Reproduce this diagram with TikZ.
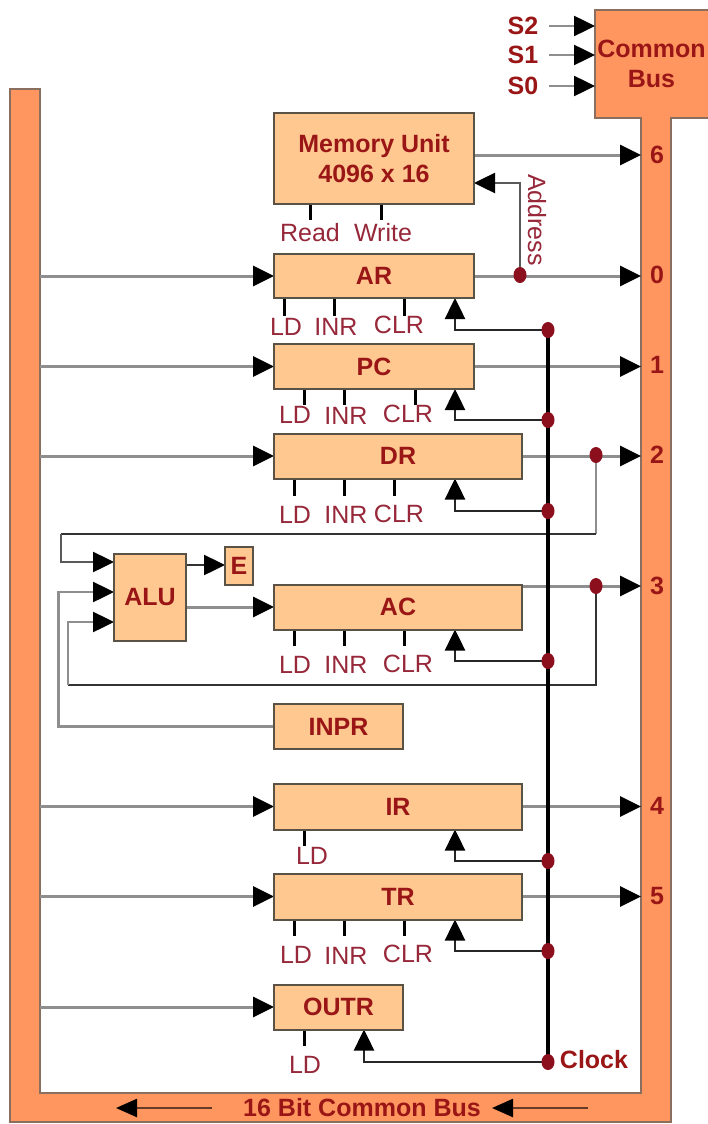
\documentclass[tikz,border=0pt]{standalone}
\usepackage{fontspec}
\setmainfont{Liberation Sans}
\usetikzlibrary{arrows.meta,shapes.geometric}
\definecolor{busfill}{HTML}{FF965F}
\definecolor{busedge}{HTML}{8A6E5E}
\definecolor{regfill}{HTML}{FFC890}
\definecolor{regedge}{HTML}{5A5244}
\definecolor{boldred}{HTML}{9A1616}
\definecolor{thinred}{HTML}{97283A}
\definecolor{dotred}{HTML}{8C0F1E}
\definecolor{wiregray}{HTML}{8E8E8E}
\pgfdeclarelayer{busLayer}
\pgfdeclarelayer{wireLayer}
\pgfsetlayers{busLayer,wireLayer,main}
\tikzset{
  every node/.style={inner sep=0pt,outer sep=0pt},
  regbox/.style={draw=regedge,fill=regfill,line width=2pt,font=\fontsize{25}{30}\selectfont\bfseries,text=boldred,align=center},
  boldlabel/.style={font=\fontsize{25}{30}\selectfont\bfseries,text=boldred,align=center},
  ctllabel/.style={font=\fontsize{25}{30}\selectfont,text=thinred},
  junction/.style={ellipse,fill=dotred,minimum width=13pt,minimum height=16pt},
  bigtip/.tip={Triangle[length=21pt,width=20pt,color=black,fill=black]},
  busdata/.style={draw=wiregray,line width=3pt,-bigtip},
  plainwire/.style={draw=wiregray,line width=3pt},
  darkwire/.style={draw=black!80,line width=2.5pt},
  darkarrow/.style={draw=black!80,line width=2.5pt,-bigtip},
  grayarrow/.style={draw=wiregray,line width=2.5pt,-bigtip},
  clockline/.style={draw=black,line width=3.5pt},
  clockarrow/.style={draw=black!85,line width=2.5pt,-bigtip},
  ctltick/.style={draw=black,line width=3pt},
  busarrow/.style={draw=black!60!busfill,line width=2.5pt,-{Triangle[length=21pt,width=18pt,color=black,fill=black]}},
}
\newcommand{\ctltick}[3]{\coordinate (tk) at (#2,#3); \draw[ctltick] (tk |- #1.south) -- (tk);}
\begin{document}
\begin{tikzpicture}[x=1pt,y=-1pt]
\useasboundingbox (0,0) rectangle (707,1124);

% ---- bus outline
\begin{pgfonlayer}{busLayer}
\fill[white] (0,0) rectangle (707,1124);
\draw[fill=busfill,draw=busedge,line width=2pt,line join=miter]
  (10,89) -- (40,89) -- (40,1093) -- (641,1093) -- (641,118) -- (595,118) -- (595,10)
  -- (712,10) -- (712,118) -- (671,118) -- (671,1122) -- (10,1122) -- cycle;
\end{pgfonlayer}
\coordinate (leftbus) at (40,0);
\coordinate (rightbus) at (641,0);

% ---- registers
\node[regbox,minimum width=200pt,minimum height=91pt] (MEM) at (374,158.5) {Memory Unit\\4096 x 16};
\node[regbox,minimum width=200pt,minimum height=44pt] (AR) at (374,276) {AR};
\node[regbox,minimum width=200pt,minimum height=45pt] (PC) at (374,366.5) {PC};
\node[regbox,minimum width=248pt,minimum height=45pt] (DR) at (398,456) {DR};
\node[regbox,minimum width=248pt,minimum height=45pt] (AC) at (398,607) {AC};
\node[regbox,minimum width=72pt,minimum height=87pt] (ALU) at (150,597.5) {ALU};
\node[regbox,minimum width=28pt,minimum height=38pt] (E) at (239,566) {E};
\node[regbox,minimum width=129pt,minimum height=45pt] (INPR) at (338.5,726.5) {INPR};
\node[regbox,minimum width=248pt,minimum height=46pt] (IR) at (398,806.5) {IR};
\node[regbox,minimum width=248pt,minimum height=46pt] (TR) at (398,896.5) {TR};
\node[regbox,minimum width=129pt,minimum height=45pt] (OUTR) at (338.5,1007) {OUTR};

% ---- common bus select
\node[boldlabel,minimum width=113pt,minimum height=108pt] (CB) at (651.5,64) {Common\\Bus};
\node[boldlabel] (S2) at (523,26) {S2};
\node[boldlabel] (S1) at (523,55) {S1};
\node[boldlabel] (S0) at (523,86) {S0};

% ---- bus position numbers
\node[boldlabel] (n6) at (657,155) {6};
\node[boldlabel] (n0) at (657,275) {0};
\node[boldlabel] (n1) at (657,365) {1};
\node[boldlabel] (n2) at (657,455) {2};
\node[boldlabel] (n3) at (657,586) {3};
\node[boldlabel] (n4) at (657,806) {4};
\node[boldlabel] (n5) at (657,896) {5};

% ---- control labels
\node[ctllabel] (lRead) at (310,233) {Read};
\node[ctllabel] (lWrite) at (383,233) {Write};
\node[ctllabel] (lA1) at (286,327) {LD};
\node[ctllabel] (lA2) at (336,327) {INR};
\node[ctllabel] (lA3) at (399,325) {CLR};
\node[ctllabel] (lP1) at (295,415) {LD};
\node[ctllabel] (lP2) at (346,416) {INR};
\node[ctllabel] (lP3) at (408,414) {CLR};
\node[ctllabel] (lD1) at (295,515) {LD};
\node[ctllabel] (lD2) at (346,515) {INR};
\node[ctllabel] (lD3) at (399,514) {CLR};
\node[ctllabel] (lC1) at (295,665) {LD};
\node[ctllabel] (lC2) at (346,665) {INR};
\node[ctllabel] (lC3) at (408,664) {CLR};
\node[ctllabel] (lI1) at (312,856) {LD};
\node[ctllabel] (lT1) at (296,955) {LD};
\node[ctllabel] (lT2) at (346,956) {INR};
\node[ctllabel] (lT3) at (408,954) {CLR};
\node[ctllabel] (lO1) at (305,1065) {LD};
\node[ctllabel,rotate=-90] (lAddr) at (537,220) {Address};
\node[font=\fontsize{25}{30}\selectfont\bfseries,text=boldred] (lClock) at (594,1060) {Clock};
\node[boldlabel] (lBus) at (362,1108) {16 Bit Common Bus};

% ---- junctions
\node[junction] (jAddr) at (520,275) {};
\node[junction] (jDR) at (596,455) {};
\node[junction] (jAC) at (596,586) {};
\node[junction] (cAR) at (548,330) {};
\node[junction] (cPC) at (548,420) {};
\node[junction] (cDR) at (548,511) {};
\node[junction] (cAC) at (548,661) {};
\node[junction] (cIR) at (548,861) {};
\node[junction] (cTR) at (548,951) {};
\node[junction] (cOUT) at (548,1062) {};

\begin{pgfonlayer}{wireLayer}
% selects
\draw[grayarrow] (S2.east) ++(11,0) -- (CB.west |- S2.east);
\draw[grayarrow] (S1.east) ++(11,0) -- (CB.west |- S1.east);
\draw[grayarrow] (S0.east) ++(11,0) -- (CB.west |- S0.east);
% left bus into registers
\draw[busdata] (leftbus |- AR.west) -- (AR.west);
\draw[busdata] (leftbus |- PC.west) -- (PC.west);
\draw[busdata] (leftbus |- DR.west) -- (DR.west);
\draw[busdata] (leftbus |- IR.west) -- (IR.west);
\draw[busdata] (leftbus |- TR.west) -- (TR.west);
\draw[busdata] (leftbus |- OUTR.west) -- (OUTR.west);
% registers into right bus
\coordinate (memOut) at (474,155);
\coordinate (memIn) at (474,183);
\coordinate (acOut) at (522,586);
\draw[busdata] (memOut) -- (rightbus |- memOut);
\draw[busdata] (AR.east) -- (rightbus |- AR.east);
\draw[busdata] (PC.east) -- (rightbus |- PC.east);
\draw[busdata] (DR.east) -- (rightbus |- DR.east);
\draw[busdata] (acOut) -- (rightbus |- acOut);
\draw[busdata] (IR.east) -- (rightbus |- IR.east);
\draw[busdata] (TR.east) -- (rightbus |- TR.east);
% address
\draw[darkarrow,draw=black!65] (jAddr.center) |- (memIn);
% ALU network
\coordinate (aluA) at (114,562);
\coordinate (aluB) at (114,592);
\coordinate (aluC) at (114,622);
\coordinate (drTurn) at (596,534);
\coordinate (drLeft) at (61,534);
\coordinate (acTurn) at (596,685);
\coordinate (acLeft) at (68,685);
\coordinate (inLeft) at (58.5,726.5);
\draw[plainwire,line width=2.5pt] (jDR.center) -- (drTurn);
\draw[darkwire] (drTurn) -- (drLeft);
\draw[darkarrow,draw=black!65] (drLeft) |- (aluA);
\draw[darkwire] (jAC.center) -- (acTurn) -- (acLeft);
\draw[grayarrow] (acLeft) |- (aluC);
\draw[grayarrow] (INPR.west) -- (inLeft) |- (aluB);
\coordinate (eIn) at (E.west |- 0,565);
\draw[darkarrow] (ALU.east |- eIn) -- (eIn);
\coordinate (acIn) at (AC.west);
\draw[busdata] (ALU.east |- acIn) -- (acIn);
% clock
\draw[clockline] (cAR.center) -- (cOUT.center);
\draw[clockarrow] (cAR.center) -| (455,0 |- AR.south);
\draw[clockarrow] (cPC.center) -| (455,0 |- PC.south);
\draw[clockarrow] (cDR.center) -| (455,0 |- DR.south);
\draw[clockarrow] (cAC.center) -| (455,0 |- AC.south);
\draw[clockarrow] (cIR.center) -| (455,0 |- IR.south);
\draw[clockarrow] (cTR.center) -| (455,0 |- TR.south);
\draw[clockarrow] (cOUT.center) -| (364,0 |- OUTR.south);
% control ticks
\ctltick{MEM}{310}{220}\ctltick{MEM}{381}{220}
\ctltick{AR}{284}{316}\ctltick{AR}{334}{316}\ctltick{AR}{404}{316}
\ctltick{PC}{304}{405}\ctltick{PC}{344}{405}\ctltick{PC}{415}{405}
\ctltick{DR}{294.5}{496}\ctltick{DR}{344}{496}\ctltick{DR}{394}{496}
\ctltick{AC}{294.5}{646}\ctltick{AC}{344}{646}\ctltick{AC}{404}{646}
\ctltick{IR}{304}{846}
\ctltick{TR}{294.5}{936}\ctltick{TR}{344}{936}\ctltick{TR}{404}{936}
\ctltick{OUTR}{304}{1046}
% bus direction arrows
\coordinate (bA1) at (212,1108);
\coordinate (bA2) at (116,1108);
\coordinate (bB1) at (588,1108);
\coordinate (bB2) at (492,1108);
\draw[busarrow] (bA1) -- (bA2);
\draw[busarrow] (bB1) -- (bB2);
\end{pgfonlayer}
\end{tikzpicture}
\end{document}
